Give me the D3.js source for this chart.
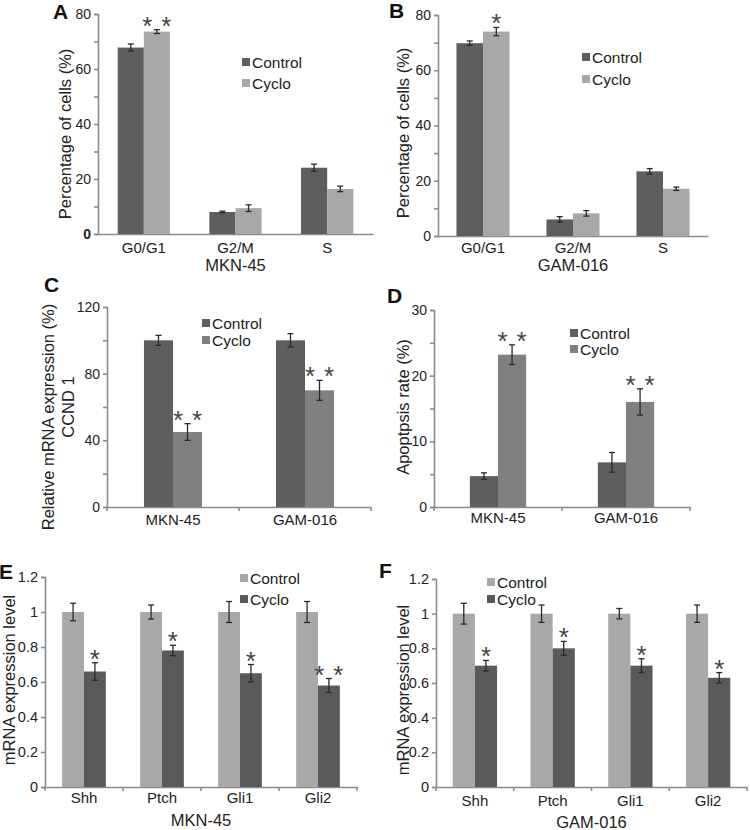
<!DOCTYPE html>
<html>
<head>
<meta charset="utf-8">
<script src="https://cdn.jsdelivr.net/npm/d3@7"></script>
<style>
  body { margin: 0; background: #fff; }
  svg { display: block; font-family: "Liberation Sans", Arial, sans-serif; }
</style>
</head>
<body>
<div id="chart"></div>
<script>
// ---- data ----
const seriesNames = ["Control", "Cyclo"];
const cycleCats = ["G0/G1", "G2/M", "S"];
const cellLines = ["MKN-45", "GAM-016"];
const geneCats = ["Shh", "Ptch", "Gli1", "Gli2"];

// A: cell cycle MKN-45
const aControl = [67.8, 8.0, 24.1];
const aControlErr = [1.3, 0.3, 1.3];
const aCyclo = [73.6, 9.4, 16.4];
const aCycloErr = [0.7, 1.2, 1.0];
const aStars = ["**", "", ""];

// B: cell cycle GAM-016
const bControl = [69.8, 6.0, 23.4];
const bControlErr = [0.8, 1.0, 1.0];
const bCyclo = [74.0, 8.2, 17.1];
const bCycloErr = [1.5, 1.0, 0.6];
const bStars = ["*", "", ""];

// C: CCND1 mRNA
const cControl = [100, 100];
const cControlErr = [3, 4];
const cCyclo = [45, 70];
const cCycloErr = [5, 6];
const cStars = ["**", "**"];

// D: apoptosis
const dControl = [4.7, 6.8];
const dControlErr = [0.5, 1.5];
const dCyclo = [23.2, 16.0];
const dCycloErr = [1.5, 2.0];
const dStars = ["**", "**"];

// E: hedgehog genes MKN-45
const eControl = [1, 1, 1, 1];
const eControlErr = [0.05, 0.04, 0.06, 0.06];
const eCyclo = [0.66, 0.78, 0.65, 0.58];
const eCycloErr = [0.05, 0.03, 0.05, 0.04];
const eStars = ["*", "*", "*", "**"];

// F: hedgehog genes GAM-016
const fControl = [1, 1, 1, 1];
const fControlErr = [0.06, 0.05, 0.03, 0.05];
const fCyclo = [0.70, 0.80, 0.70, 0.63];
const fCycloErr = [0.03, 0.04, 0.04, 0.03];
const fStars = ["*", "*", "*", "*"];

const dark = "#5e5e5e", light = "#a8a8a8", mid = "#808080", darkE = "#5a5a5a";
const axisColor = "#8c8c8c";

const svg = d3.select("#chart").append("svg")
  .attr("width", 750).attr("height", 830);

function panel(cfg) {
  const g = svg.append("g");
  const y = d3.scaleLinear([0, cfg.max], [cfg.y0, cfg.yTop]);
  const x = d3.scaleBand(cfg.cats, [cfg.x0, cfg.x1])
    .paddingInner(1 - cfg.frac).paddingOuter((1 - cfg.frac) / 2);
  const xz = d3.scaleBand(seriesNames, [0, x.bandwidth()]);
  const colors = d3.scaleOrdinal(seriesNames, cfg.colors);

  // y axis
  const ticks = d3.range(0, cfg.max + cfg.tickStep / 2, cfg.tickStep).map(d => +d.toFixed(4));
  const isLab = d => Math.abs(d / cfg.labelStep - Math.round(d / cfg.labelStep)) < 1e-6;
  const ya = g.append("g")
    .attr("transform", `translate(${cfg.x0},0)`)
    .call(d3.axisLeft(y).tickValues(ticks).tickSize(4).tickPadding(3)
      .tickFormat(d => isLab(d) ? String(d) : ""));
  ya.select(".domain").attr("stroke", axisColor).attr("stroke-width", 1.6);
  ya.selectAll(".tick line").attr("stroke", axisColor).attr("stroke-width", 1.6);
  ya.selectAll(".tick text").attr("font-size", cfg.tickFont || 14).attr("fill", "#222")
    .attr("font-family", "Liberation Sans, Arial, sans-serif")
    .attr("font-weight", d => (d === 0 && cfg.boldZero) ? "bold" : null);

  // x axis
  const xa = g.append("g")
    .attr("transform", `translate(0,${cfg.y0})`)
    .call(d3.axisBottom(x).tickSize(0).tickPadding(cfg.catLabelY - cfg.y0 - 5.3).tickSizeOuter(0));
  xa.select(".domain").attr("stroke", axisColor).attr("stroke-width", 1.6);
  xa.selectAll(".tick text").attr("font-size", 15).attr("fill", "#222")
    .attr("font-family", "Liberation Sans, Arial, sans-serif");
  if (cfg.boundaryTicks) {
    const bounds = d3.range(cfg.cats.length + 1).map(i => cfg.x0 + i * x.step());
    xa.selectAll(".bt").data(bounds).join("line")
      .attr("x1", d => d).attr("x2", d => d).attr("y1", 0).attr("y2", 4)
      .attr("stroke", axisColor).attr("stroke-width", 1.6);
  }

  // bars
  const rows = [];
  cfg.cats.forEach((c, i) => {
    seriesNames.forEach((s, k) => {
      rows.push({cat: c, s: s, v: cfg.vals[k][i], e: cfg.errs[k][i], star: k === 1 ? cfg.stars[i] : ""});
    });
  });
  g.append("g").selectAll("rect").data(rows).join("rect")
    .attr("x", d => x(d.cat) + xz(d.s))
    .attr("y", d => y(d.v))
    .attr("width", xz.bandwidth())
    .attr("height", d => y(0) - y(d.v))
    .attr("fill", d => colors(d.s));

  // error bars
  const eb = g.append("g").attr("stroke", "#2a2a2a").attr("stroke-width", 1.3);
  rows.forEach(d => {
    const cx = x(d.cat) + xz(d.s) + xz.bandwidth() / 2;
    const t = y(d.v + d.e), b = y(d.v - d.e);
    eb.append("line").attr("x1", cx).attr("x2", cx).attr("y1", t).attr("y2", b);
    eb.append("line").attr("x1", cx - 3).attr("x2", cx + 3).attr("y1", t).attr("y2", t);
    eb.append("line").attr("x1", cx - 3).attr("x2", cx + 3).attr("y1", b).attr("y2", b);
  });

  // significance stars
  rows.filter(d => d.star).forEach(d => {
    const cx = x(d.cat) + xz(d.s) + xz.bandwidth() / 2;
    const offs = d.star.length === 2 ? [-9.5, 9.5] : [0];
    offs.forEach(o => {
      g.append("text")
        .attr("x", cx + o).attr("y", y(d.v + d.e) + 5)
        .attr("text-anchor", "middle")
        .attr("font-size", 26).attr("fill", "#444")
        .text("*");
    });
  });

  // legend
  const lg = g.append("g");
  seriesNames.forEach((s, k) => {
    const ly = cfg.legend.ys[k];
    lg.append("rect").attr("x", cfg.legend.x).attr("y", ly - 4).attr("width", 8).attr("height", 8)
      .attr("fill", colors(s));
    lg.append("text").attr("x", cfg.legend.x + 10).attr("y", ly).attr("dy", "0.36em")
      .attr("font-size", 15.5).attr("fill", "#222").text(s);
  });

  // y title
  cfg.yTitle.forEach((t, i) => {
    g.append("text")
      .attr("transform", `translate(${cfg.yTitleX[i]},${cfg.yTitleY[i]}) rotate(-90)`)
      .attr("text-anchor", "middle").attr("dy", "0.36em")
      .attr("font-size", 16.5).attr("fill", "#222").text(t);
  });

  // x title
  if (cfg.xTitle) {
    g.append("text").attr("x", (cfg.x0 + cfg.x1) / 2).attr("y", cfg.xTitleY).attr("dy", "0.36em")
      .attr("text-anchor", "middle").attr("font-size", 16.5).attr("fill", "#222").text(cfg.xTitle);
  }

  // panel letter
  g.append("text").attr("x", cfg.letterPos[0]).attr("y", cfg.letterPos[1])
    .attr("font-size", 21).attr("font-weight", "bold").attr("fill", "#111").text(cfg.letter);
}

panel({
  letter: "A", letterPos: [53, 19],
  x0: 98, x1: 373, y0: 234, yTop: 14, max: 80, tickStep: 10, labelStep: 20, boldZero: true,
  cats: cycleCats, vals: [aControl, aCyclo], errs: [aControlErr, aCycloErr], stars: aStars,
  colors: [dark, light], frac: 0.57, catLabelY: 248, boundaryTicks: false,
  xTitle: "MKN-45", xTitleY: 265,
  legend: {x: 242, ys: [62, 83]},
  yTitle: ["Percentage of cells (%)"], yTitleX: [65], yTitleY: [134]
});

panel({
  letter: "B", letterPos: [389, 18],
  x0: 438, x1: 708, y0: 236, yTop: 15, max: 80, tickStep: 10, labelStep: 20,
  cats: cycleCats, vals: [bControl, bCyclo], errs: [bControlErr, bCycloErr], stars: bStars,
  colors: [dark, light], frac: 0.59, catLabelY: 248, boundaryTicks: false,
  xTitle: "GAM-016", xTitleY: 265,
  legend: {x: 582, ys: [57, 79]},
  yTitle: ["Percentage of cells (%)"], yTitleX: [403], yTitleY: [133]
});

panel({
  letter: "C", letterPos: [44, 292],
  x0: 107, x1: 371, y0: 507, yTop: 307, max: 120, tickStep: 20, labelStep: 40,
  cats: cellLines, vals: [cControl, cCyclo], errs: [cControlErr, cCycloErr], stars: cStars,
  colors: [dark, mid], frac: 0.44, catLabelY: 520, boundaryTicks: true,
  legend: {x: 202, ys: [323, 340]},
  yTitle: ["Relative mRNA expression (%)", "CCND 1"], yTitleX: [48, 68], yTitleY: [417, 407]
});

panel({
  letter: "D", letterPos: [387, 303],
  x0: 434, x1: 690, y0: 507, yTop: 310, max: 30, tickStep: 5, labelStep: 10,
  cats: cellLines, vals: [dControl, dCyclo], errs: [dControlErr, dCycloErr], stars: dStars,
  colors: [dark, mid], frac: 0.44, catLabelY: 518, boundaryTicks: true,
  legend: {x: 570, ys: [333, 349]},
  yTitle: ["Apoptpsis rate (%)"], yTitleX: [403], yTitleY: [407]
});

panel({
  letter: "E", letterPos: [-1, 579],
  x0: 45, x1: 357, y0: 787, yTop: 577, max: 1.2, tickStep: 0.2, labelStep: 0.2, tickFont: 14.5,
  cats: geneCats, vals: [eControl, eCyclo], errs: [eControlErr, eCycloErr], stars: eStars,
  colors: [light, darkE], frac: 0.56, catLabelY: 798, boundaryTicks: true,
  xTitle: "MKN-45", xTitleY: 820,
  legend: {x: 240, ys: [578, 599]},
  yTitle: ["mRNA expression level"], yTitleX: [9], yTitleY: [680]
});

panel({
  letter: "F", letterPos: [379, 578],
  x0: 436, x1: 747, y0: 787, yTop: 579, max: 1.2, tickStep: 0.2, labelStep: 0.2, tickFont: 14.5,
  cats: geneCats, vals: [fControl, fCyclo], errs: [fControlErr, fCycloErr], stars: fStars,
  colors: [light, darkE], frac: 0.57, catLabelY: 801, boundaryTicks: true,
  xTitle: "GAM-016", xTitleY: 822,
  legend: {x: 487, ys: [582, 599]},
  yTitle: ["mRNA expression level"], yTitleX: [403], yTitleY: [690]
});
</script>
</body>
</html>
